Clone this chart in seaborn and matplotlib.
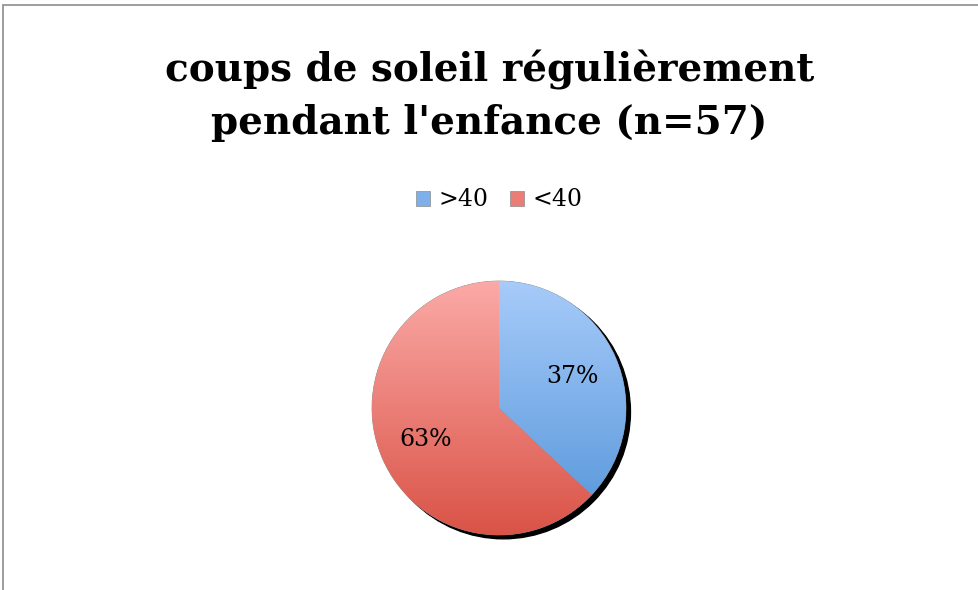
import numpy as np
import seaborn as sns
import matplotlib.pyplot as plt
from matplotlib.patches import Circle, Rectangle
from matplotlib.colors import LinearSegmentedColormap

# data
labels = [">40", "<40"]
shares = [37, 63]
top_colors = ["#A7CBFA", "#FBAAA7"]
bottom_colors = ["#5394D8", "#DA5347"]

sns.set_theme(style="white")
plt.rcParams['font.family'] = ['DejaVu Serif']

fig = plt.figure(figsize=(9.79, 5.90), dpi=100)
W, H = 979, 590
cx, cy, r = 499, 590 - 408, 127
ax = fig.add_axes([(cx - r - 10) / W, (cy - r - 10) / H, (2 * r + 20) / W, (2 * r + 20) / H])
lim = (r + 10) / r
ax.axis("off")

# shadow
ax.add_patch(Circle((0.035, -0.03), 1.0, color="black", zorder=0))

mid_colors = [sns.blend_palette([t, b], 3)[1] for t, b in zip(top_colors, bottom_colors)]
wedges, texts, autotexts = ax.pie(shares, colors=mid_colors, startangle=90, counterclock=False,
                                  autopct="%d%%", pctdistance=0.63, radius=1.0,
                                  wedgeprops=dict(edgecolor="#8a8a8a", linewidth=0.5),
                                  textprops=dict(fontsize=17, color="black"))
ax.set_xlim(-lim, lim)
ax.set_ylim(-lim, lim)

# vertical gradient fill for each slice
grad = np.linspace(1, 0, 256).reshape(-1, 1)
for w, t, b in zip(wedges, top_colors, bottom_colors):
    cmap = LinearSegmentedColormap.from_list("g", [b, t])
    im = ax.imshow(grad, cmap=cmap, extent=[-1, 1, -1, 1], origin="upper",
                   aspect="auto", zorder=1.5, vmin=0, vmax=1)
    im.set_clip_path(w)
for w in wedges:
    w.set_zorder(1)
for at in autotexts:
    at.set_zorder(3)

leg = fig.legend(wedges, labels, loc="center", bbox_to_anchor=(0.51, 1 - 200 / H), ncol=2,
                 frameon=False, fontsize=17, handlelength=0.6, handleheight=0.6,
                 handletextpad=0.35, columnspacing=0.9)
for t in leg.get_texts():
    t.set_color("black")

fig.text(0.5, 1 - 96 / H, "coups de soleil régulièrement\npendant l'enfance (n=57)",
         ha="center", va="center", fontsize=28, fontweight="bold", color="black",
         linespacing=1.45)

fig.patches.append(Rectangle((3 / W, -0.1), 1.2, 1 - 5 / H + 0.1, transform=fig.transFigure,
                             fill=False, edgecolor="#8c8c8c", linewidth=1.2))

fig.savefig("out.png", dpi=100)
